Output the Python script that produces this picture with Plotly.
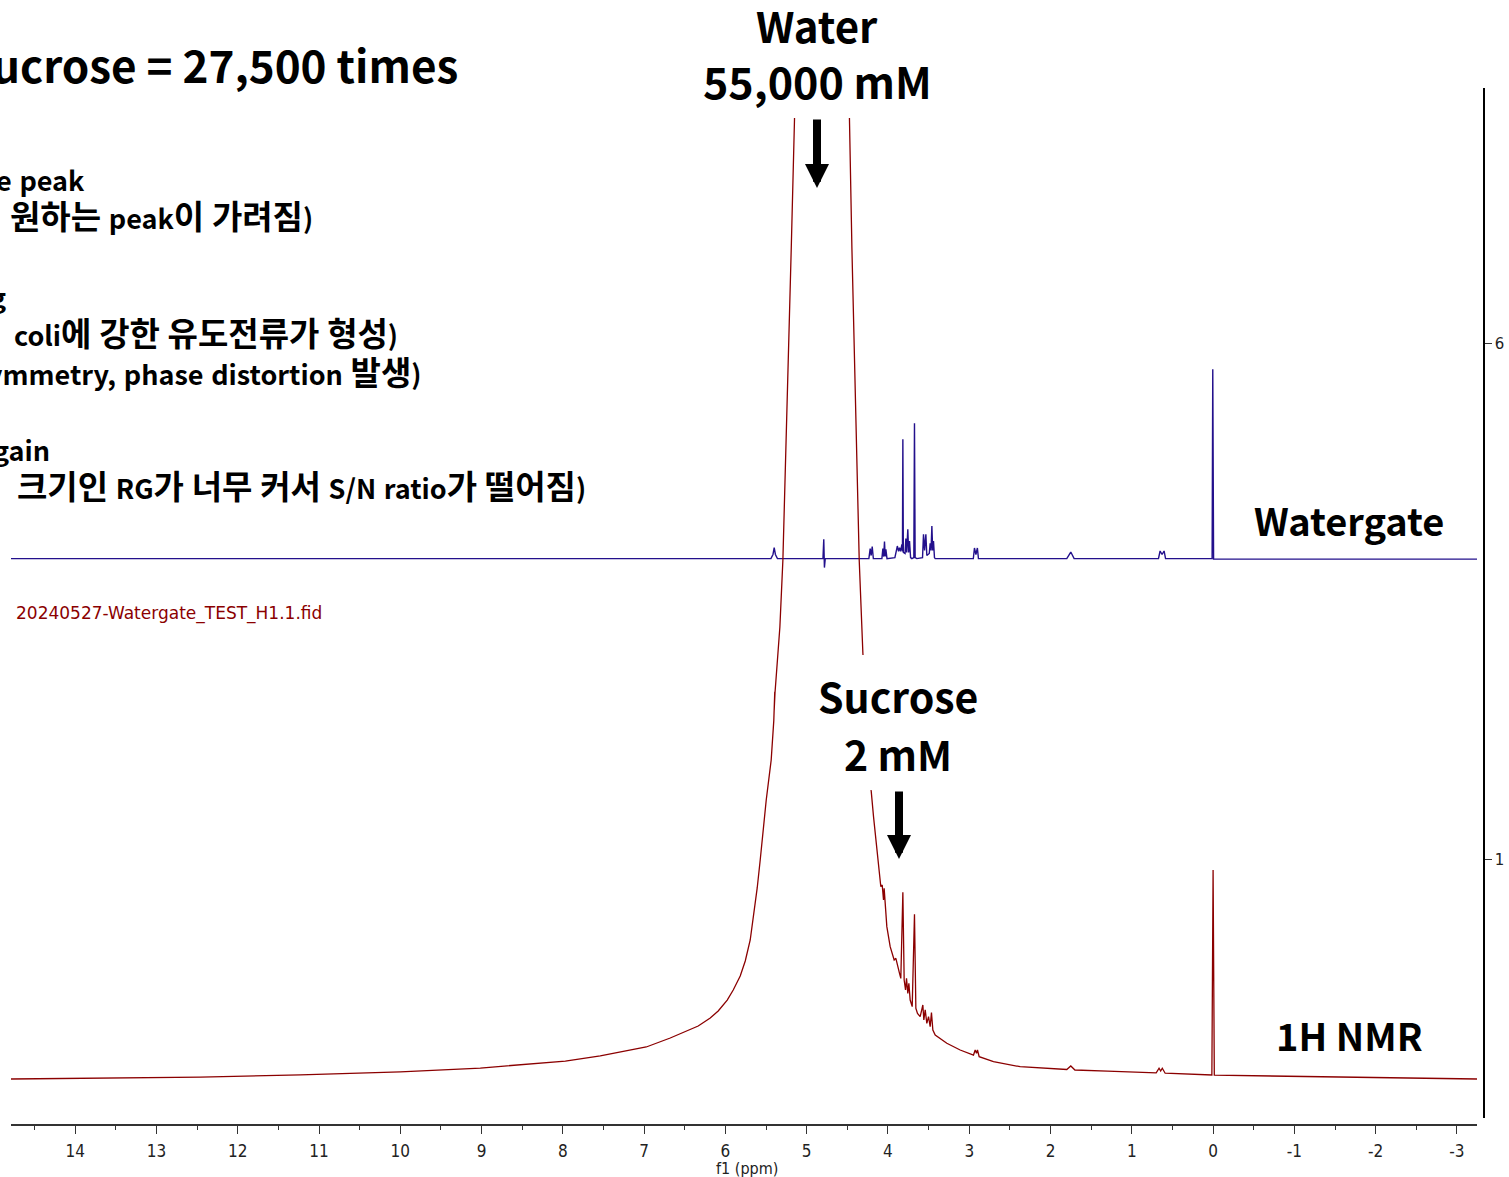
import plotly.graph_objects as go

W, H = 1509, 1177

# ---------------- data ----------------
x_tick_vals = [14, 13, 12, 11, 10, 9, 8, 7, 6, 5, 4, 3, 2, 1, 0, -1, -2, -3]
x_tick_text = ["14", "13", "12", "11", "10", "9", "8", "7", "6", "5", "4", "3", "2", "1", "0", "-1", "-2", "-3"]
y_tick_vals = [6, 1]
y_tick_text = ["6", "1"]

# Watergate (water-suppressed) spectrum, chemical shift (ppm) and offset intensity
watergate_ppm = [14.79, 5.44, 5.415, 5.400, 5.385, 5.36,
                 4.80, 4.79, 4.782, 4.772,
                 4.235, 4.219, 4.207, 4.194, 4.18,
                 4.075, 4.063, 4.053, 4.043, 4.034, 4.026, 4.012,
                 3.915, 3.899, 3.885, 3.870, 3.858, 3.845, 3.829, 3.822,
                 3.817, 3.811, 3.790, 3.780, 3.770, 3.756, 3.746, 3.735, 3.722, 3.706,
                 3.682, 3.674, 3.666, 3.645,
                 3.575, 3.563, 3.550, 3.534, 3.522, 3.492, 3.481, 3.470, 3.460, 3.450, 3.440, 3.428, 3.419,
                 2.95, 2.936, 2.918, 2.900, 2.887,
                 1.80, 1.751, 1.71,
                 0.672, 0.652, 0.628, 0.603, 0.585,
                 0.012, 0.004, -0.006, -3.247]
watergate_int = [3.92, 3.92, 3.96, 4.027, 3.96, 3.92,
                 3.92, 4.107, 3.833, 3.92,
                 3.92, 4.017, 3.95, 4.036, 3.92,
                 3.92, 4.017, 3.94, 4.085, 3.94, 4.01, 3.92,
                 3.93, 3.978, 4.042, 3.99, 4.027, 3.99, 4.059, 3.99,
                 5.076, 3.98, 3.97, 4.114, 3.98, 4.204, 3.98, 4.09, 3.93, 3.92,
                 3.93, 5.231, 3.93, 3.92,
                 3.93, 4.155, 4.00, 4.155, 3.95, 3.97, 4.068, 4.00, 4.236, 4.00, 4.09, 3.93, 3.92,
                 3.92, 4.023, 3.96, 4.023, 3.92,
                 3.92, 3.984, 3.92,
                 3.92, 3.994, 3.96, 3.994, 3.92,
                 3.92, 5.754, 3.915, 3.915]

# Plain 1H NMR spectrum (water peak off scale)
h1_ppm = [14.79, 13.69, 12.46, 11.23, 10.00, 9.016, 7.97, 7.54, 7.294, 6.974, 6.679, 6.470, 6.335,
          6.187, 6.089, 5.978, 5.904, 5.818, 5.756, 5.695, 5.646, 5.609, 5.572, 5.547, 5.498,
          5.437, 5.405, 5.393, 5.400, 5.390,
          5.33, 5.293, 5.19, 5.15,
          4.80,
          4.474, 4.444, 4.354, 4.309,
          4.207, 4.178, 4.137, 4.104, 4.088, 4.071, 4.055, 4.047, 4.030, 4.014, 3.973,
          3.924, 3.903, 3.883, 3.858, 3.842, 3.817, 3.801, 3.784, 3.772, 3.756, 3.743,
          3.727, 3.702, 3.674, 3.657, 3.637, 3.604, 3.571, 3.559, 3.542, 3.522, 3.501,
          3.481, 3.465, 3.448, 3.419, 3.276, 3.112, 2.948, 2.927, 2.911, 2.899, 2.878,
          2.702, 2.374, 1.882, 1.80, 1.751, 1.70, 1.30,
          0.70, 0.665, 0.645, 0.625, 0.59,
          0.015, 0.0, -0.015, -1.5, -3.247]
h1_int = [-1.122, -1.112, -1.103, -1.083, -1.054, -1.016, -0.948, -0.899, -0.860, -0.812, -0.725, -0.657, -0.609,
          -0.531, -0.463, -0.357, -0.26, -0.124, 0.021, 0.225, 0.486, 0.729, 1.0, 1.194, 1.581,
          1.969, 2.35, 2.63, 2.45, 2.62,
          3.258, 3.907, 6.93, 8.18,
          40.0,
          8.18, 6.93, 3.907, 3.006,
          1.672, 1.420, 1.129, 0.871, 0.741, 0.758, 0.612, 0.725, 0.483, 0.354, 0.160,
          0.031, 0.047, -0.034, -0.098, -0.147, 0.687, -0.163, -0.260, -0.147, -0.292, -0.195,
          -0.357, -0.421, 0.474, -0.437, -0.486, -0.518, -0.405, -0.550, -0.453, -0.583, -0.518,
          -0.615, -0.479, -0.647, -0.696, -0.776, -0.841, -0.890, -0.841, -0.873, -0.841, -0.906,
          -0.954, -1.003, -1.025, -1.03, -0.996, -1.035, -1.045,
          -1.062, -1.018, -1.045, -1.018, -1.066,
          -1.083, 0.903, -1.085, -1.10, -1.122]

FONT = "Noto Sans CJK KR"
TICKFONT = "Liberation Sans Narrow, DejaVu Sans Condensed, Liberation Sans, DejaVu Sans"


def fx(px):
    return px / W


def fy(py):
    return 1 - py / H


def has_hangul(text):
    return any(0xAC00 <= ord(c) <= 0xD7A3 for c in text)


def styled_note(text, han_size, space_size):
    """Korean glyphs and word gaps are larger than the Latin text in the original slide."""
    out, run = [], ""

    def flush():
        nonlocal run
        if run:
            out.append('<span style="font-size:%dpx">%s</span>' % (han_size, run))
            run = ""

    for ch in text:
        if 0xAC00 <= ord(ch) <= 0xD7A3:
            run += ch
        elif ch == " ":
            flush()
            out.append('<span style="font-size:%dpx"> </span>' % space_size)
        else:
            flush()
            out.append(ch)
    flush()
    return "".join(out)


fig = go.Figure()
fig.add_trace(go.Scatter(x=watergate_ppm, y=watergate_int, mode="lines",
                         line=dict(color="#23108c", width=1.4), hoverinfo="skip"))
fig.add_trace(go.Scatter(x=h1_ppm, y=h1_int, mode="lines",
                         line=dict(color="#8b0000", width=1.3), hoverinfo="skip"))

annotations = []


def txt(text, px, py, size, xanchor="center", color="black", family=FONT, bold=True):
    annotations.append(dict(
        text=("<b>%s</b>" % text) if bold else text,
        x=fx(px), y=fy(py), xref="paper", yref="paper",
        xanchor=xanchor, yanchor="middle", showarrow=False,
        font=dict(family=family, size=size, color=color)))


# big labels
txt("Water", 817, 25, 42)
txt("55,000 mM", 817, 80, 43)
txt("Sucrose", 898, 695, 41)
txt("2 mM", 898, 753, 41)
txt("Watergate", 1349, 519, 38)
txt("1H NMR", 1349, 1034, 38)
txt("ucrose = 27,500 times", 460, 64, 44, xanchor="right")

# left notes (cut off at the page edge)
LAT, HAN, SPC = 27, 33, 34
notes = [("e peak", 87, 181), ("원하는 peak이 가려짐)", 315, 215), ("g", 8, 297),
         ("coli에 강한 유도전류가 형성)", 400, 332), ("ymmetry, phase distortion 발생)", 424, 372),
         ("gain", 52, 449), ("크기인 RG가 너무 커서 S/N ratio가 떨어짐)", 588, 485)]
for t, rx, cy in notes:
    styled = styled_note(t, HAN, SPC)
    if has_hangul(t):
        shift = 1
    elif styled != t:
        shift = 5
    else:
        shift = 0
    txt(styled, rx, cy - shift, LAT, xanchor="right")

# file name and axis title
txt("20240527-Watergate_TEST_H1.1.fid", 14, 613, 17, xanchor="left",
    color="#8b0000", family="DejaVu Sans", bold=False)
txt("f1 (ppm)", 747, 1168, 16, family=TICKFONT, bold=False, color="#222")

# arrows
for (ax_px, tail, tip) in [(817, 118, 188), (899, 790, 859)]:
    annotations.append(dict(
        x=fx(ax_px), y=fy(tip), xref="paper", yref="paper", text="",
        showarrow=True, ax=0, ay=-(tip - tail), axref="pixel", ayref="pixel",
        arrowhead=2, arrowsize=0.6, arrowwidth=8, arrowcolor="black"))

shapes = [
    dict(type="rect", xref="paper", yref="paper", x0=fx(695), x1=fx(940), y0=fy(118), y1=fy(0),
         fillcolor="white", line=dict(width=0), layer="above"),
    dict(type="rect", xref="paper", yref="paper", x0=fx(812), x1=fx(990), y0=fy(790), y1=fy(655),
         fillcolor="white", line=dict(width=0), layer="above"),
]

fig.update_layout(
    width=W, height=H,
    margin=dict(l=0, r=0, t=0, b=0),
    paper_bgcolor="white", plot_bgcolor="white",
    showlegend=False,
    annotations=annotations,
    shapes=shapes,
    xaxis=dict(
        range=[14.79, -3.247], domain=[fx(11), fx(1477)],
        anchor="free", position=fy(1125),
        showline=True, linecolor="#333", linewidth=1.5,
        showgrid=False, zeroline=False,
        tickmode="array", tickvals=x_tick_vals, ticktext=x_tick_text,
        ticks="outside", ticklen=8, tickwidth=1.2, tickcolor="#333",
        ticklabelstandoff=3,
        minor=dict(ticks="outside", ticklen=4, tickwidth=1, tickcolor="#333",
                   dtick=0.5, tick0=0, showgrid=False),
        tickfont=dict(family=TICKFONT, size=17, color="#222"),
    ),
    yaxis=dict(
        range=[-1.5, 8.48], domain=[fy(1118), fy(88)],
        anchor="free", position=fx(1484), side="right",
        showline=True, linecolor="black", linewidth=1.5,
        showgrid=False, zeroline=False,
        tickmode="array", tickvals=y_tick_vals, ticktext=y_tick_text,
        ticks="outside", ticklen=7, tickwidth=1, tickcolor="#333",
        tickfont=dict(family="DejaVu Sans", size=15, color="#222"),
    ),
)

fig.write_html("out.html", config={"displayModeBar": False},
               post_script="document.body.style.margin='0';document.body.style.overflow='hidden';")
